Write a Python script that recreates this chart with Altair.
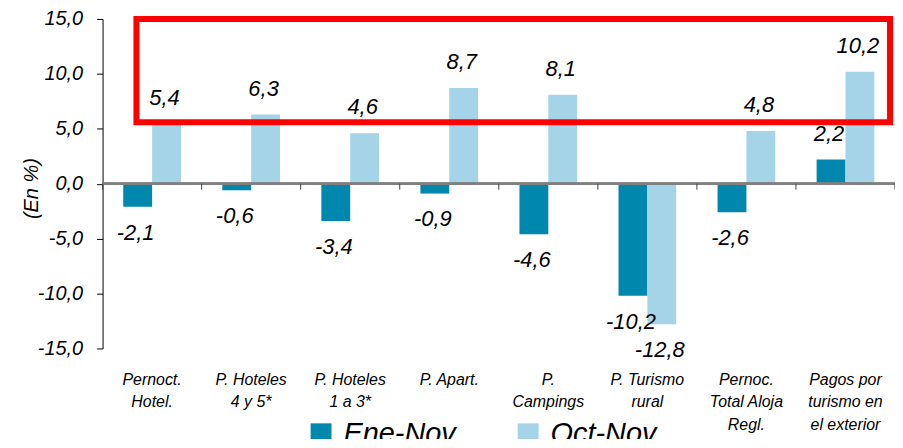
import altair as alt
import pandas as pd

categories = ["Pernoct.|Hotel.", "P. Hoteles|4 y 5*", "P. Hoteles|1 a 3*", "P.  Apart.",
              "P.|Campings", "P. Turismo|rural", "Pernoc.|Total Aloja|Regl.",
              "Pagos por|turismo en|el exterior"]
series = ["Ene-Nov", "Oct-Nov"]
ene_nov = [-2.1, -0.6, -3.4, -0.9, -4.6, -10.2, -2.6, 2.2]
oct_nov = [5.4, 6.3, 4.6, 8.7, 8.1, -12.8, 4.8, 10.2]
y_ticks = [-15, -10, -5, 0, 5, 10, 15]
colors = ["#0087AD", "#A5D3E8"]

# highlight box (annotation): y range in data units, x in plot pixels
box_y = [15.0, 5.6]
box_x_px = [34, 791]

rows = []
for i, c in enumerate(categories):
    for s, vals in zip(series, [ene_nov, oct_nov]):
        v = vals[i]
        rows.append({"cat": c, "serie": s, "value": v,
                     "label": f"{v:.1f}".replace(".", ",")})
df = pd.DataFrame(rows)
cat_df = pd.DataFrame({"cat": categories})
last_df = pd.DataFrame({"cat": categories[-1:]})

W, H = 796, 331
FONT = "Liberation Sans"

xscale = alt.Scale(domain=categories, paddingInner=0, paddingOuter=0)
yscale = alt.Scale(domain=[-15, 15], nice=False, zero=False)
xoff = alt.XOffset("serie:N", scale=alt.Scale(domain=series, paddingInner=0, paddingOuter=0.716))

xaxis = alt.Axis(orient="bottom", domain=False, ticks=False, title=None,
                 labelExpr="split(datum.label, '|')", labelFont=FONT,
                 labelFontStyle="italic", labelFontSize=16, labelLineHeight=22.5,
                 labelPadding=23, labelColor="black", labelAngle=0)


def xenc(band=None):
    if band is None:
        return alt.X("cat:N", scale=xscale, sort=categories, axis=xaxis)
    return alt.X("cat:N", scale=xscale, sort=categories, axis=xaxis, bandPosition=band)


bars = alt.Chart(df).mark_bar().encode(
    x=xenc(),
    xOffset=xoff,
    y=alt.Y("value:Q", scale=yscale,
            axis=alt.Axis(values=y_ticks, grid=False, domainColor="black", domainWidth=1,
                          tickColor="black", tickSize=6, labelFont=FONT,
                          labelFontStyle="italic", labelFontSize=20, labelColor="black",
                          labelPadding=14,
                          labelExpr="replace(replace(format(datum.value, '.1f'), '.', ','), '\u2212', '-')",
                          title="(En %)", titleFont=FONT, titleFontStyle="italic",
                          titleFontWeight="normal", titleFontSize=20, titleColor="black",
                          titleX=-71, titleY=170, titleAlign="center",
                          titleBaseline="middle")),
    color=alt.Color("serie:N", scale=alt.Scale(domain=series, range=colors),
                    legend=alt.Legend(orient="none", legendX=205, legendY=402,
                                      direction="horizontal", title=None,
                                      symbolType="square", symbolSize=441,
                                      symbolStrokeWidth=0, labelFont=FONT,
                                      labelFontStyle="italic", labelFontSize=29,
                                      labelColor="black", labelOffset=8,
                                      columnPadding=58, labelLimit=300)),
)

zero_line = alt.Chart(cat_df).mark_rule(color="#808080", strokeWidth=2).encode(
    y=alt.datum(0, scale=yscale),
)

ticks_left = alt.Chart(cat_df).mark_rule(color="#404040", strokeWidth=1).encode(
    x=xenc(0),
    y=alt.datum(0, scale=yscale),
    y2=alt.datum(-0.55),
)
ticks_right = alt.Chart(last_df).mark_rule(color="#404040", strokeWidth=1).encode(
    x=xenc(1),
    y=alt.datum(0, scale=yscale),
    y2=alt.datum(-0.55),
)

pos = alt.Chart(df).transform_filter("datum.value >= 0").mark_text(
    baseline="alphabetic", dy=-19, dx=-2, font=FONT, fontStyle="italic", fontSize=22,
    color="black").encode(
    x=xenc(),
    xOffset=xoff,
    y=alt.Y("value:Q", scale=yscale),
    text="label:N",
)

neg = alt.Chart(df).transform_filter("datum.value < 0").mark_text(
    baseline="top", dy=16, dx=-2, font=FONT, fontStyle="italic", fontSize=22,
    color="black").encode(
    x=xenc(),
    xOffset=xoff,
    y=alt.Y("value:Q", scale=yscale),
    text="label:N",
)

box = alt.Chart(pd.DataFrame({"y1": [box_y[0]], "y2": [box_y[1]]})).mark_rect(
    fillOpacity=0, stroke="#FF0000", strokeWidth=6).encode(
    x=alt.value(box_x_px[0]), x2=alt.value(box_x_px[1]),
    y=alt.Y("y1:Q", scale=yscale), y2="y2:Q",
)

chart = alt.layer(bars, zero_line, ticks_left, ticks_right, pos, neg, box).properties(
    width=W, height=H,
    autosize=alt.AutoSizeParams(type="none"),
    padding={"left": 95, "top": 10, "right": 0, "bottom": 90},
).configure_view(stroke=None)

chart.save("out.html", embed_options={"renderer": "svg", "actions": False})
